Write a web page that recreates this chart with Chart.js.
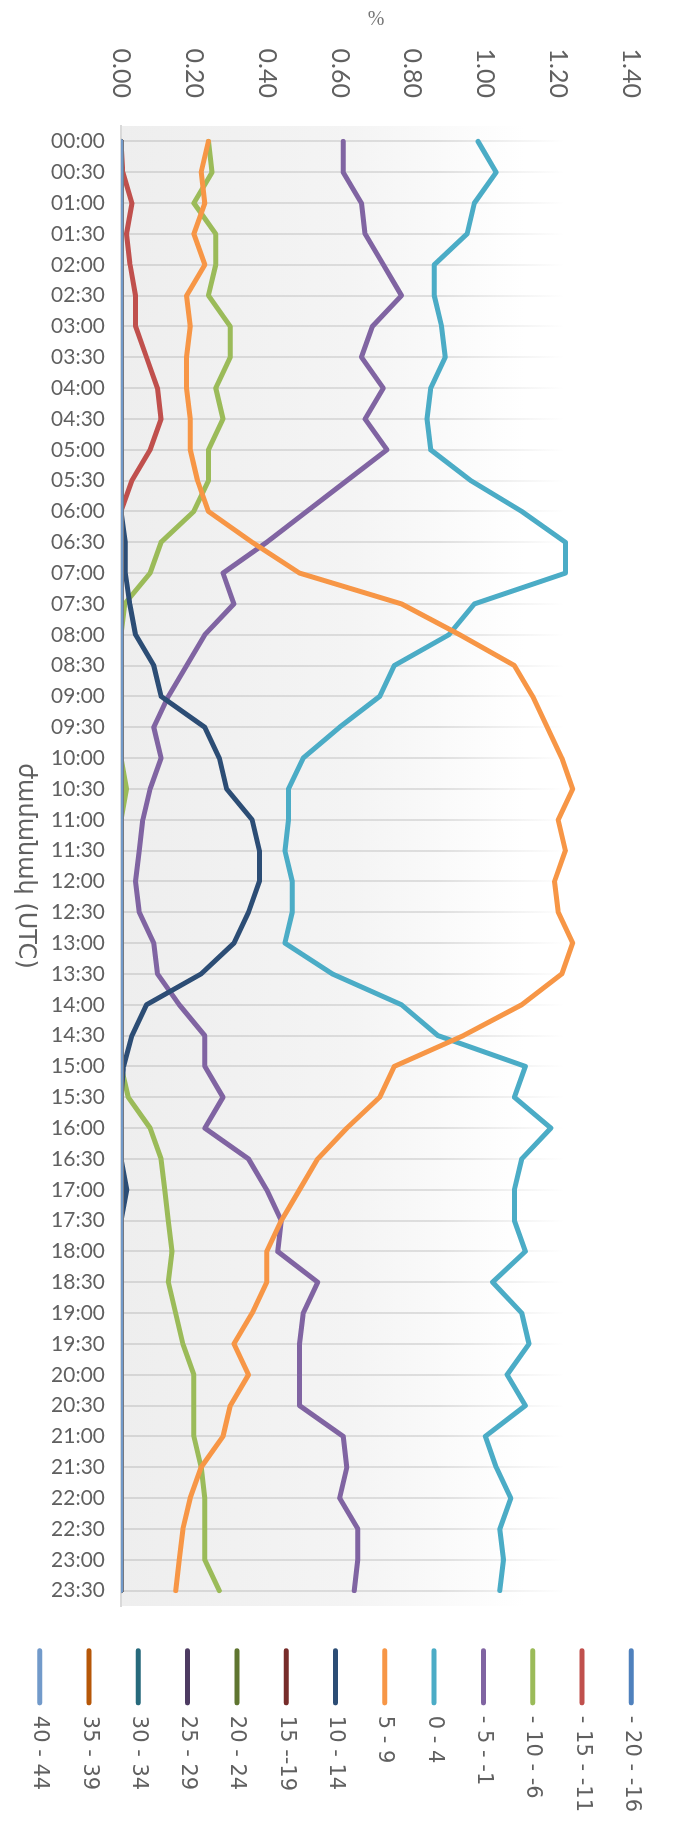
<!DOCTYPE html>
<html>
<head>
<meta charset="utf-8">
<script src="https://cdn.jsdelivr.net/npm/chart.js@4.4.1/dist/chart.umd.min.js"></script>
<style>
  html, body { margin: 0; padding: 0; overflow: hidden; background: #fff; }
  /* the chart is drawn landscape and turned a quarter clockwise */
  #wrap { position: absolute; left: 0; top: 0; width: 1822px; height: 679px;
          transform-origin: 0 0; transform: translateX(679px) rotate(90deg); }
</style>
</head>
<body>
<div id="wrap"><canvas id="tempChart" width="1822" height="679"></canvas></div>
<script>
// time of day (UTC), every half hour
const times = [
  '00:00','00:30','01:00','01:30','02:00','02:30','03:00','03:30','04:00','04:30','05:00','05:30',
  '06:00','06:30','07:00','07:30','08:00','08:30','09:00','09:30','10:00','10:30','11:00','11:30',
  '12:00','12:30','13:00','13:30','14:00','14:30','15:00','15:30','16:00','16:30','17:00','17:30',
  '18:00','18:30','19:00','19:30','20:00','20:30','21:00','21:30','22:00','22:30','23:00','23:30'
];

const seriesNames = ['- 20 - -16', '- 15 - -11', '- 10 - -6', '- 5 - -1', '0 - 4', '5 - 9',
  '10 - 14', '15 --19', '20 - 24', '25 - 29', '30 - 34', '35 - 39', '40 - 44'];
const seriesColors = ['#4F81BD', '#C0504D', '#9BBB59', '#8064A2', '#4BACC6', '#F79646',
  '#2C4D75', '#772C2A', '#5F7530', '#4D3B62', '#276A7C', '#B65708', '#729ACA'];

// percent values per temperature band
const m20_16 = [0,0,0,0,0,0,0,0,0,0,0,0, 0,0,0,0,0,0,0,0,0,0,0,0, 0,0,0,0,0,0,0,0,0,0,0,0, 0,0,0,0,0,0,0,0,0,0,0,0];
const m15_11 = [0,0.005,0.03,0.015,0.025,0.04,0.04,0.07,0.10,0.11,0.08,0.03,
  0,0,0,0,0,0,0,0,0,0,0,0, 0,0,0,0,0,0,0,0,0,0,0,0, 0,0,0,0,0,0,0,0,0,0,0,0];
const m10_6 = [0.24,0.25,0.20,0.26,0.26,0.24,0.30,0.30,0.26,0.28,0.24,0.24,
  0.20,0.11,0.08,0.01,0,0,0,0,0,0.015,0,0,
  0,0,0,0,0,0,0,0.02,0.08,0.11,0.12,0.13,
  0.14,0.13,0.15,0.17,0.20,0.20,0.20,0.22,0.23,0.23,0.23,0.27];
const m5_1 = [0.61,0.61,0.66,0.67,0.72,0.77,0.69,0.66,0.72,0.67,0.73,0.62,
  0.51,0.40,0.28,0.31,0.23,0.18,0.13,0.09,0.11,0.08,0.06,0.05,
  0.04,0.05,0.09,0.10,0.16,0.23,0.23,0.28,0.23,0.35,0.40,0.44,
  0.43,0.54,0.50,0.49,0.49,0.49,0.61,0.62,0.60,0.65,0.65,0.64];
const p0_4 = [0.98,1.03,0.97,0.95,0.86,0.86,0.88,0.89,0.85,0.84,0.85,0.96,
  1.10,1.22,1.22,0.97,0.90,0.75,0.71,0.60,0.50,0.46,0.46,0.45,
  0.47,0.47,0.45,0.58,0.77,0.87,1.11,1.08,1.18,1.10,1.08,1.08,
  1.11,1.02,1.10,1.12,1.06,1.11,1.00,1.03,1.07,1.04,1.05,1.04];
const p5_9 = [0.24,0.22,0.23,0.20,0.23,0.18,0.19,0.18,0.18,0.19,0.19,0.21,
  0.24,0.36,0.49,0.77,0.93,1.08,1.13,1.17,1.21,1.24,1.20,1.22,
  1.19,1.20,1.24,1.21,1.10,0.94,0.75,0.71,0.62,0.54,0.49,0.44,
  0.40,0.40,0.36,0.31,0.35,0.30,0.28,0.22,0.19,0.17,0.16,0.15];
const p10_14 = [0,0,0,0,0,0,0,0,0,0,0,0,
  0,0.012,0.012,0.024,0.04,0.09,0.11,0.23,0.27,0.29,0.36,0.38,
  0.38,0.35,0.31,0.22,0.07,0.03,0.007,0,0,0,0.016,0,
  0,0,0,0,0,0,0,0,0,0,0,0];
const p15_19 = [0,0,0,0,0,0,0,0,0,0,0,0, 0,0,0,0,0,0,0,0,0,0,0,0, 0,0,0,0,0,0,0,0,0,0,0,0, 0,0,0,0,0,0,0,0,0,0,0,0];
const p20_24 = [0,0,0,0,0,0,0,0,0,0,0,0, 0,0,0,0,0,0,0,0,0,0,0,0, 0,0,0,0,0,0,0,0,0,0,0,0, 0,0,0,0,0,0,0,0,0,0,0,0];
const p25_29 = [0,0,0,0,0,0,0,0,0,0,0,0, 0,0,0,0,0,0,0,0,0,0,0,0, 0,0,0,0,0,0,0,0,0,0,0,0, 0,0,0,0,0,0,0,0,0,0,0,0];
const p30_34 = [0,0,0,0,0,0,0,0,0,0,0,0, 0,0,0,0,0,0,0,0,0,0,0,0, 0,0,0,0,0,0,0,0,0,0,0,0, 0,0,0,0,0,0,0,0,0,0,0,0];
const p35_39 = [0,0,0,0,0,0,0,0,0,0,0,0, 0,0,0,0,0,0,0,0,0,0,0,0, 0,0,0,0,0,0,0,0,0,0,0,0, 0,0,0,0,0,0,0,0,0,0,0,0];
const p40_44 = [0,0,0,0,0,0,0,0,0,0,0,0, 0,0,0,0,0,0,0,0,0,0,0,0, 0,0,0,0,0,0,0,0,0,0,0,0, 0,0,0,0,0,0,0,0,0,0,0,0];

const seriesValues = [m20_16, m15_11, m10_6, m5_1, p0_4, p5_9, p10_14, p15_19,
  p20_24, p25_29, p30_34, p35_39, p40_44];

const textGray = '#606060';

//grey plot background fading out towards the high values
const plotBackground = {
  id: 'plotBackground',
  beforeDraw(chart) {
    const {ctx, chartArea: a} = chart;
    const g = ctx.createLinearGradient(0, a.bottom, 0, a.top);
    g.addColorStop(0, '#eeeeee');
    g.addColorStop(0.45, '#f4f4f4');
    g.addColorStop(0.79, '#ffffff');
    ctx.save();
    ctx.fillStyle = g;
    ctx.fillRect(a.left, a.top, a.width, a.height);
    ctx.restore();
  }
};

function gridColor(context) {
  const chart = context.chart;
  const a = chart.chartArea;
  if (!a) return '#d9d9d9';
  const g = chart.ctx.createLinearGradient(0, a.bottom, 0, a.top);
  g.addColorStop(0, '#d5d5d5');
  g.addColorStop(0.62, '#dedede');
  g.addColorStop(0.87, '#ffffff');
  return g;
}

var datasets = [];
for (let i = 0; i < seriesNames.length; i++) {
  datasets.push({
    label: seriesNames[i],
    data: seriesValues[i],
    borderColor: seriesColors[i],
    backgroundColor: seriesColors[i],
    borderWidth: 5,
    pointRadius: 0,
    tension: 0,
    fill: false,
    borderJoinStyle: 'round',
    borderCapStyle: 'round',
    order: seriesNames.length - 1 - i   // later bands on top, as in the original
  });
}

Chart.defaults.font.family = "Lato, 'DejaVu Sans', sans-serif";
Chart.defaults.color = textGray;

new Chart(document.getElementById('tempChart'), {
  type: 'line',
  data: { labels: times, datasets: datasets },
  options: {
    responsive: false,
    animation: false,
    devicePixelRatio: 1,
    layout: { padding: { top: 8, right: 0, bottom: 0, left: 0 } },
    scales: {
      x: {
        type: 'category',
        offset: true,
        grid: { color: gridColor, lineWidth: 2, drawTicks: false },
        border: { display: true, color: '#d9d9d9', width: 2 },
        ticks: { autoSkip: false, minRotation: 90, maxRotation: 90, padding: 16,
                 font: { size: 21 }, color: textGray },
        title: { display: true, text: 'ժամանակ (UTC)', color: textGray,
                 font: { family: "'DejaVu Sans', sans-serif", size: 24 },
                 padding: { top: 0, bottom: 11 } },
        afterFit: s => { s.height = 121; }
      },
      y: {
        min: 0,
        max: 1.4,
        grid: { display: false, drawTicks: false },
        border: { display: false },
        ticks: { stepSize: 0.2, padding: 28, font: { size: 25, lineHeight: 1.6 }, color: textGray,
                 callback: v => v.toFixed(2) },
        title: { display: true, text: '%', color: '#777',
                 font: { family: "'Liberation Serif', serif", size: 20 },
                 padding: { top: 8, bottom: 0 } },
        afterFit: s => { s.width = 126; }
      },
      // empty strip between plot and legend
      gap: {
        type: 'linear',
        position: 'right',
        grid: { display: false },
        border: { display: false },
        ticks: { display: false },
        afterFit: s => { s.width = 14; }
      }
    },
    plugins: {
      legend: {
        position: 'right',
        maxWidth: 204,
        reverse: true,
        labels: {
          boxWidth: 57,
          boxHeight: 5,
          padding: 28.3,
          useBorderRadius: true,
          borderRadius: 2.5,
          color: textGray,
          font: { family: "'DejaVu Sans', sans-serif", size: 21 },
          generateLabels(chart) {
            const items = Chart.defaults.plugins.legend.labels.generateLabels(chart);
            items.forEach(it => { it.lineWidth = 0; it.fillStyle = it.strokeStyle; });
            return items;
          }
        }
      },
      tooltip: { enabled: false }
    }
  },
  plugins: [plotBackground]
});
</script>
</body>
</html>
